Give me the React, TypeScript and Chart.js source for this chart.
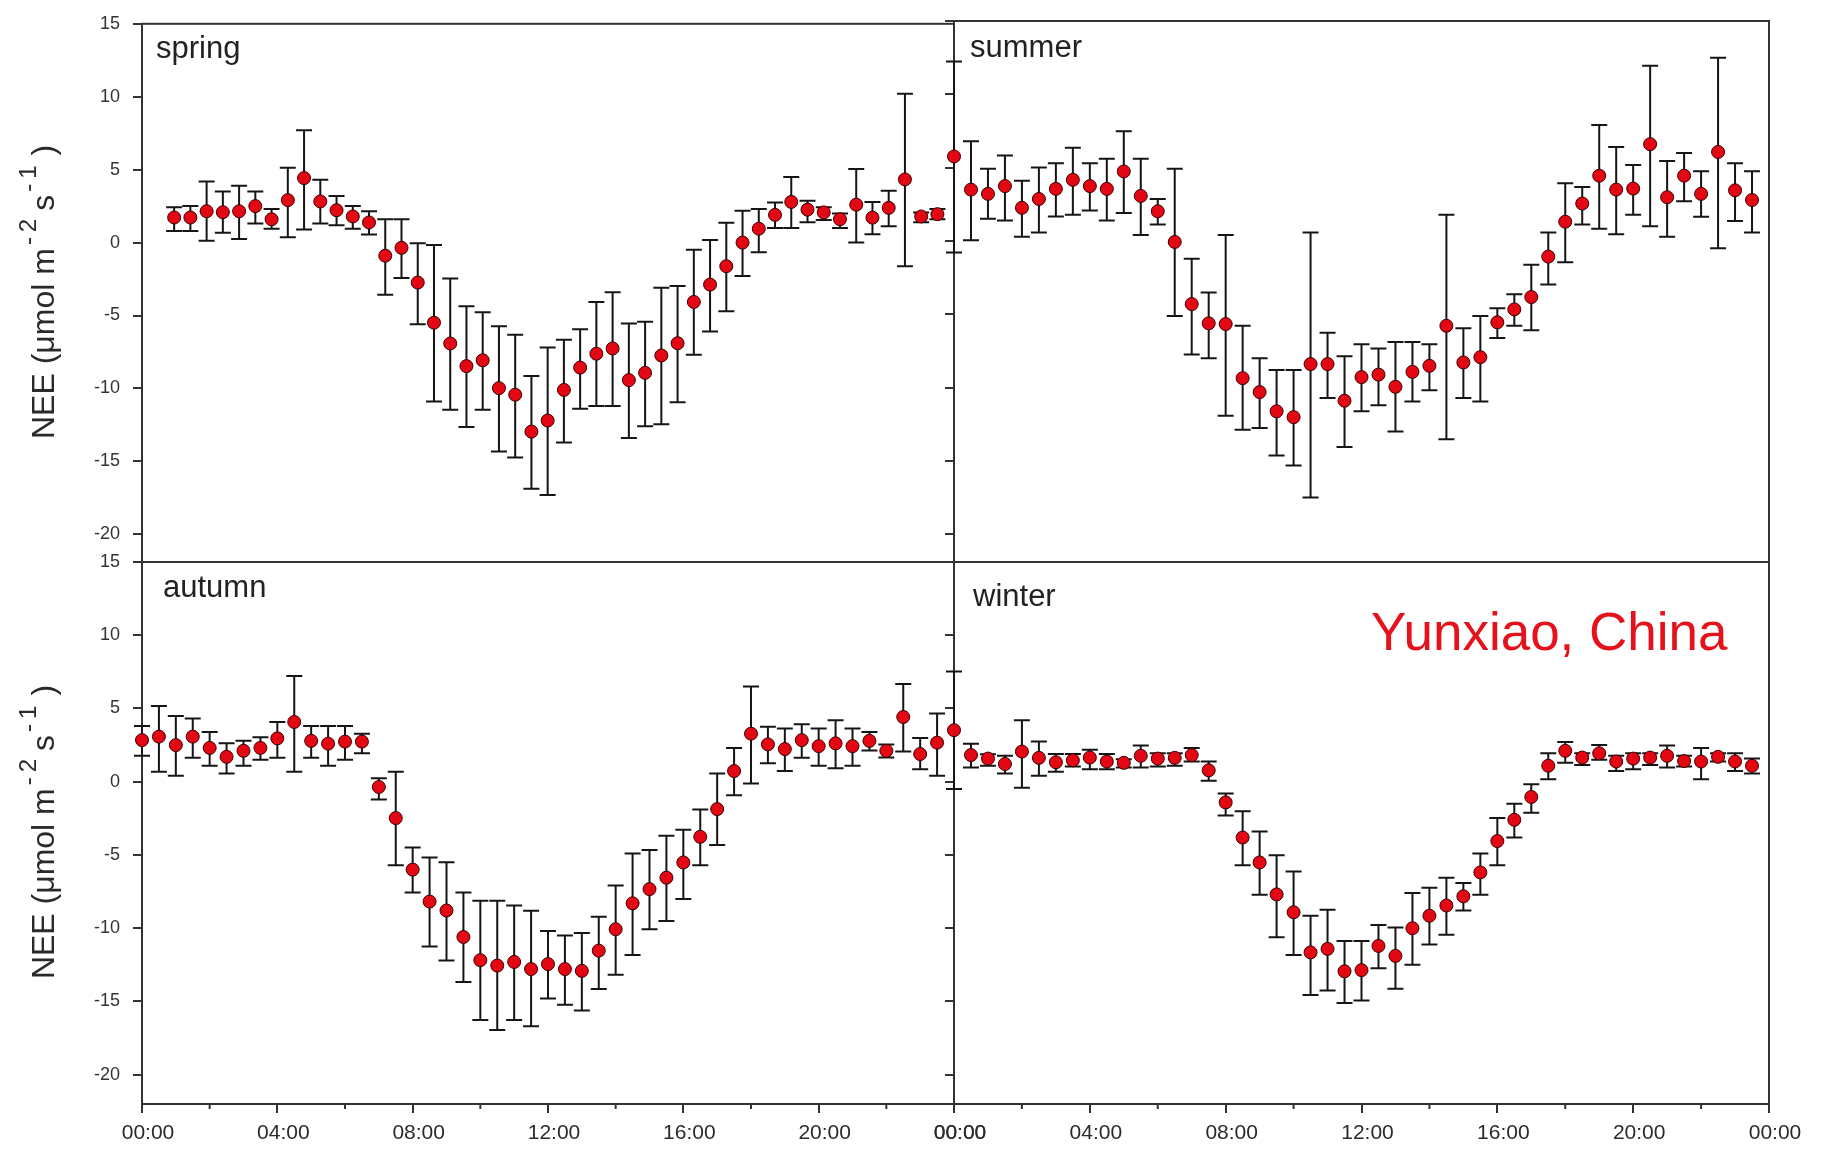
import React, { useEffect, useRef } from "react";
import { Chart, registerables } from "chart.js";

Chart.register(...registerables);

const FONT = '"Liberation Sans", Arial, Helvetica, sans-serif';
const PAGE_W = 1825;
const PAGE_H = 1153;

// ---- time axes (hours of day) ----
const halfHourTimes = Array.from({ length: 48 }, (_, i) => i * 0.5);
// spring series is drawn slightly compressed in the original figure
const springTimes = Array.from({ length: 48 }, (_, i) => 0.95 + i * 0.48);
const xTickHours = [0, 4, 8, 12, 16, 20, 24];
const xMinorHours = [2, 6, 10, 14, 18, 22];
const yTickValues = [-20, -15, -10, -5, 0, 5, 10, 15];

// ---- spring ----
const springMean = [1.72, 1.72, 2.15, 2.08, 2.15, 2.5, 1.6, 2.91, 4.42, 2.82, 2.22, 1.79, 1.38, -0.9, -0.36, -2.74, -5.49, -6.92, -8.47, -8.07, -9.98, -10.43, -12.96, -12.2, -10.1, -8.57, -7.62, -7.26, -9.43, -8.93, -7.74, -6.9, -4.07, -2.88, -1.62, 0.0, 0.95, 1.9, 2.79, 2.26, 2.07, 1.6, 2.6, 1.71, 2.38, 4.33, 1.79, 1.95];
const springUpper = [2.43, 2.5, 4.18, 3.5, 3.9, 3.5, 2.3, 5.13, 7.7, 4.3, 3.2, 2.5, 2.15, 1.6, 1.6, -0.05, -0.17, -2.46, -4.37, -4.77, -5.73, -6.32, -9.14, -7.2, -6.67, -5.95, -4.07, -3.4, -5.55, -5.43, -3.1, -2.98, -0.5, 0.17, 1.36, 2.19, 2.31, 2.74, 4.5, 2.86, 2.43, 2.0, 5.05, 2.79, 3.55, 10.2, 2.07, 2.31];
const springLower = [0.79, 0.79, 0.12, 0.67, 0.24, 1.31, 0.95, 0.36, 0.9, 1.31, 1.19, 0.95, 0.55, -3.58, -2.43, -5.6, -10.9, -11.46, -12.65, -11.46, -14.32, -14.73, -16.87, -17.3, -13.7, -11.4, -11.2, -11.2, -13.4, -12.6, -12.45, -10.95, -7.69, -6.1, -4.7, -2.29, -0.67, 1.0, 1.0, 1.4, 1.55, 1.0, 0.0, 0.57, 1.12, -1.62, 1.4, 1.6];

// ---- summer ----
const summerMean = [5.76, 3.5, 3.21, 3.74, 2.26, 2.86, 3.55, 4.17, 3.74, 3.55, 4.74, 3.07, 2.02, -0.07, -4.31, -5.62, -5.67, -9.36, -10.31, -11.62, -12.02, -8.4, -8.4, -10.9, -9.29, -9.12, -9.95, -8.93, -8.52, -5.79, -8.29, -7.93, -5.55, -4.67, -3.83, -1.07, 1.31, 2.55, 4.45, 3.5, 3.57, 6.6, 2.98, 4.45, 3.21, 6.07, 3.45, 2.79];
const summerUpper = [12.24, 6.79, 4.93, 5.83, 4.1, 5.0, 5.29, 6.36, 5.29, 5.6, 7.48, 5.6, 2.86, 4.93, -1.21, -3.52, 0.4, -5.79, -8.0, -8.81, -8.81, 0.57, -6.26, -7.86, -7.05, -7.33, -6.9, -6.9, -7.05, 1.79, -5.95, -5.12, -4.6, -3.64, -1.62, 0.57, 3.93, 3.67, 7.9, 6.4, 5.17, 11.95, 5.45, 6.0, 4.76, 12.5, 5.29, 4.76];
const summerLower = [-0.79, 0.05, 1.52, 1.4, 0.29, 0.57, 1.67, 1.79, 2.07, 1.4, 1.9, 0.4, 1.12, -5.12, -7.74, -8.0, -11.93, -12.88, -12.76, -14.64, -15.31, -17.5, -10.71, -14.05, -11.62, -11.21, -13.0, -10.95, -10.19, -13.52, -10.71, -10.95, -6.62, -5.79, -6.1, -2.98, -1.45, 1.12, 0.83, 0.45, 1.79, 1.0, 0.29, 2.71, 1.64, -0.5, 1.36, 0.57];

// ---- autumn ----
const autumnMean = [2.84, 3.08, 2.5, 3.08, 2.31, 1.7, 2.11, 2.31, 2.96, 4.08, 2.79, 2.6, 2.74, 2.74, -0.36, -2.48, -6.0, -8.18, -8.79, -10.6, -12.18, -12.55, -12.3, -12.79, -12.45, -12.79, -12.91, -11.53, -10.07, -8.3, -7.33, -6.55, -5.51, -3.76, -1.87, 0.73, 3.28, 2.55, 2.23, 2.84, 2.43, 2.62, 2.43, 2.79, 2.11, 4.42, 1.89, 2.67];
const autumnUpper = [3.81, 5.17, 4.49, 4.32, 3.4, 2.62, 2.79, 3.03, 4.08, 7.21, 3.81, 3.81, 3.81, 3.28, 0.24, 0.68, -4.49, -5.17, -5.49, -7.57, -8.13, -8.13, -8.45, -8.81, -10.19, -10.49, -10.32, -9.22, -7.09, -4.9, -4.66, -3.69, -3.28, -1.89, 0.56, 2.31, 6.5, 3.76, 3.64, 3.93, 3.64, 4.2, 3.64, 3.4, 2.55, 6.67, 2.99, 4.66];
const autumnLower = [1.77, 0.68, 0.41, 1.63, 1.09, 0.56, 1.09, 1.5, 1.63, 0.68, 1.63, 1.09, 1.5, 1.94, -1.21, -5.7, -7.57, -11.24, -12.2, -13.67, -16.26, -16.94, -16.26, -16.7, -14.8, -15.22, -15.61, -14.15, -13.18, -11.82, -10.07, -9.51, -8.01, -5.7, -4.32, -0.92, -0.12, 1.26, 0.73, 1.63, 1.09, 0.92, 1.09, 2.14, 1.65, 2.06, 0.85, 0.41];

// ---- winter ----
const winterMean = [3.52, 1.82, 1.58, 1.21, 2.06, 1.63, 1.33, 1.46, 1.65, 1.38, 1.29, 1.77, 1.58, 1.63, 1.82, 0.78, -1.41, -3.81, -5.51, -7.69, -8.91, -11.65, -11.41, -12.94, -12.86, -11.21, -11.89, -10.0, -9.15, -8.45, -7.82, -6.19, -4.05, -2.6, -1.04, 1.09, 2.11, 1.65, 1.94, 1.38, 1.58, 1.65, 1.77, 1.41, 1.38, 1.7, 1.38, 1.09];
const winterUpper = [7.52, 2.6, 1.87, 1.77, 4.2, 2.74, 1.89, 1.89, 2.18, 1.89, 1.53, 2.48, 1.94, 1.94, 2.31, 1.38, -0.8, -2.01, -3.4, -5.02, -6.12, -9.15, -8.74, -10.87, -10.87, -9.78, -9.95, -7.6, -7.23, -6.55, -6.92, -4.9, -2.48, -1.5, -0.17, 1.94, 2.72, 1.94, 2.5, 1.77, 1.94, 1.94, 2.48, 1.77, 2.31, 1.94, 1.94, 1.58];
const winterLower = [-0.49, 0.97, 1.09, 0.56, -0.41, 0.41, 0.68, 1.04, 0.85, 0.85, 0.97, 0.97, 1.04, 1.09, 1.38, 0.07, -2.31, -5.7, -7.72, -10.61, -11.82, -14.56, -14.25, -15.1, -14.93, -12.74, -14.13, -12.5, -11.12, -10.44, -8.79, -7.72, -5.7, -3.81, -2.11, 0.17, 1.29, 1.14, 1.5, 0.73, 0.85, 1.14, 0.97, 1.04, 0.17, 1.38, 0.73, 0.56];

const siteLabel = "Yunxiao, China";

type PanelDef = {
  name: string;
  times: number[];
  mean: number[];
  upper: number[];
  lower: number[];
  box: [number, number, number, number]; // left, top, right, bottom
  yMin: number;
  yLabels: boolean;
  xAxis: boolean;
  label: [number, number];
  site?: boolean;
};

const panels: PanelDef[] = [
  { name: "spring", times: springTimes, mean: springMean, upper: springUpper, lower: springLower, box: [142, 21, 954, 562], yMin: -21.9, yLabels: true, xAxis: false, label: [14, 34] },
  { name: "summer", times: halfHourTimes, mean: summerMean, upper: summerUpper, lower: summerLower, box: [954, 21, 1769, 562], yMin: -21.9, yLabels: false, xAxis: false, label: [16, 36] },
  { name: "autumn", times: halfHourTimes, mean: autumnMean, upper: autumnUpper, lower: autumnLower, box: [142, 562, 954, 1104], yMin: -22, yLabels: true, xAxis: true, label: [21, 35] },
  { name: "winter", times: halfHourTimes, mean: winterMean, upper: winterUpper, lower: winterLower, box: [954, 562, 1769, 1104], yMin: -22, yLabels: false, xAxis: true, label: [19, 44], site: true },
];

const fmtHour = (v: number) => {
  const h = Math.round(v) % 24;
  return (h < 10 ? "0" : "") + h + ":00";
};

function drawYTitle(ctx: CanvasRenderingContext2D, baseX: number, cy: number) {
  const mainFont = `32px ${FONT}`;
  const supFont = `24px ${FONT}`;
  const pieces = [
    { t: "NEE (\u03bcmol m", sup: false, gap: 0 },
    { t: "-", sup: true, gap: 3 },
    { t: "2", sup: true, gap: 5 },
    { t: "s", sup: false, gap: 8 },
    { t: "-", sup: true, gap: 3 },
    { t: "1", sup: true, gap: 5 },
    { t: ")", sup: false, gap: 10 },
  ];
  let total = 0;
  const widths: number[] = [];
  pieces.forEach((p) => {
    ctx.font = p.sup ? supFont : mainFont;
    const w = ctx.measureText(p.t).width;
    widths.push(w);
    total += p.gap + w;
  });
  ctx.save();
  ctx.translate(baseX, cy);
  ctx.rotate(-Math.PI / 2);
  ctx.fillStyle = "#2a2a2a";
  ctx.textBaseline = "alphabetic";
  ctx.textAlign = "left";
  let x = -total / 2;
  pieces.forEach((p, i) => {
    x += p.gap;
    ctx.font = p.sup ? supFont : mainFont;
    ctx.fillText(p.t, x, p.sup ? -18 : 0);
    x += widths[i];
  });
  ctx.restore();
}

function makeDecor(p: PanelDef) {
  return {
    id: "panelDecor_" + p.name,
    beforeDatasetsDraw(chart: any) {
      const { ctx, chartArea: a, scales } = chart;
      const xs = scales.x;
      const ys = scales.y;
      ctx.save();
      // frame
      ctx.strokeStyle = "#333";
      ctx.lineWidth = 2;
      ctx.strokeRect(a.left, a.top, a.right - a.left, a.bottom - a.top);
      // minor x ticks
      if (p.xAxis) {
        ctx.beginPath();
        xMinorHours.forEach((h) => {
          const px = xs.getPixelForValue(h);
          ctx.moveTo(px, a.bottom);
          ctx.lineTo(px, a.bottom + 5);
        });
        ctx.stroke();
      }
      // error bars
      ctx.strokeStyle = "#151515";
      ctx.lineWidth = 2;
      const meta = chart.getDatasetMeta(0);
      meta.data.forEach((el: any, i: number) => {
        const x = el.x;
        const yU = ys.getPixelForValue(p.upper[i]);
        const yL = ys.getPixelForValue(p.lower[i]);
        ctx.beginPath();
        ctx.moveTo(x, yU);
        ctx.lineTo(x, yL);
        ctx.moveTo(x - 8, yU);
        ctx.lineTo(x + 8, yU);
        ctx.moveTo(x - 8, yL);
        ctx.lineTo(x + 8, yL);
        ctx.stroke();
      });
      // panel name
      ctx.fillStyle = "#222";
      ctx.font = `31px ${FONT}`;
      ctx.textAlign = "left";
      ctx.textBaseline = "alphabetic";
      ctx.fillText(p.name, a.left + p.label[0], a.top + p.label[1]);
      if (p.site) {
        ctx.fillStyle = "#e5121b";
        ctx.font = `53px ${FONT}`;
        ctx.fillText(siteLabel, a.left + 417, a.top + 88);
      }
      if (p.yLabels) {
        drawYTitle(ctx, 54, (a.top + a.bottom) / 2 - 1);
      }
      ctx.restore();
    },
  };
}

function buildConfig(p: PanelDef): any {
  const [left, top, right, bottom] = p.box;
  const yW = p.yLabels ? 100 : 10;
  const xH = p.xAxis ? 49 : 0;
  const gridOpts = {
    display: true,
    drawOnChartArea: false,
    drawTicks: true,
    tickLength: 9,
    tickWidth: 2,
    tickColor: "#333",
    color: "#333",
    lineWidth: 2,
  };
  return {
    type: "scatter",
    data: {
      datasets: [
        {
          label: p.name,
          data: p.times.map((t, i) => ({ x: t, y: p.mean[i] })),
          pointRadius: 6.5,
          pointHoverRadius: 6.5,
          pointBackgroundColor: "#e30613",
          pointBorderColor: "#3a0000",
          pointBorderWidth: 1,
          showLine: false,
          clip: false,
        },
      ],
    },
    options: {
      responsive: false,
      animation: false,
      devicePixelRatio: 1,
      events: [],
      layout: {
        padding: { left: left - yW, top: top, right: PAGE_W - right, bottom: PAGE_H - bottom - xH },
      },
      plugins: { legend: { display: false }, tooltip: { enabled: false }, title: { display: false } },
      scales: {
        x: {
          type: "linear",
          position: "bottom",
          min: 0,
          max: 24,
          display: p.xAxis,
          afterBuildTicks: (s: any) => {
            s.ticks = xTickHours.map((v) => ({ value: v }));
          },
          afterFit: (s: any) => {
            s.height = xH;
          },
          grid: gridOpts,
          border: { display: false },
          ticks: {
            autoSkip: false,
            maxRotation: 0,
            minRotation: 0,
            padding: 8,
            labelOffset: 6,
            color: "#2b2b2b",
            font: { family: FONT, size: 21 },
            callback: (v: any) => fmtHour(Number(v)),
          },
        },
        y: {
          type: "linear",
          position: "left",
          min: p.yMin,
          max: 15,
          afterBuildTicks: (s: any) => {
            s.ticks = yTickValues.map((v) => ({ value: v }));
          },
          afterFit: (s: any) => {
            s.width = yW;
          },
          grid: gridOpts,
          border: { display: false },
          ticks: {
            display: p.yLabels,
            padding: 13,
            color: "#333",
            font: { family: FONT, size: 18 },
            callback: (v: any) => String(v),
          },
        },
      },
    },
    plugins: [makeDecor(p)],
  };
}

export default function App() {
  const refs = useRef<(HTMLCanvasElement | null)[]>([]);

  useEffect(() => {
    const charts: Chart[] = [];
    panels.forEach((p, i) => {
      const c = refs.current[i];
      if (c) charts.push(new Chart(c, buildConfig(p)));
    });
    return () => charts.forEach((ch) => ch.destroy());
  }, []);

  return (
    <div
      style={{
        position: "absolute",
        left: 0,
        top: 0,
        width: PAGE_W,
        height: PAGE_H,
        background: "#ffffff",
        overflow: "hidden",
      }}
    >
      {panels.map((p, i) => (
        <canvas
          key={p.name}
          ref={(el) => {
            refs.current[i] = el;
          }}
          width={PAGE_W}
          height={PAGE_H}
          style={{ position: "absolute", left: 0, top: 0, width: PAGE_W, height: PAGE_H }}
        />
      ))}
    </div>
  );
}
